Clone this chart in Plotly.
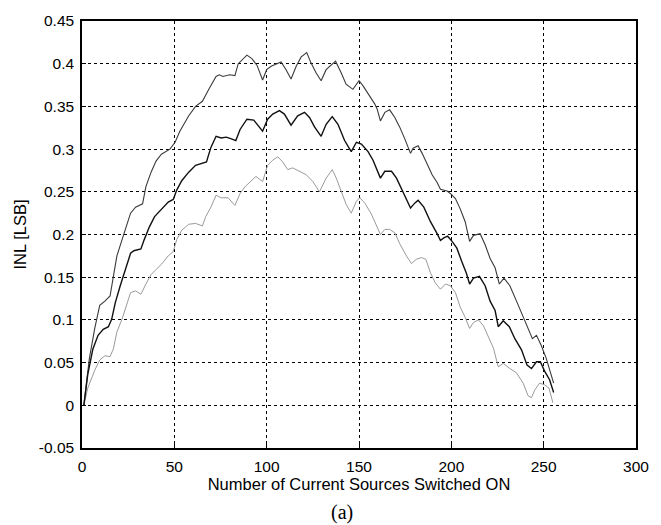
import plotly.graph_objects as go

# ---- data ----
x_top = [1,4,6.9,9.6,12.4,15.2,17,18.9,21.7,26.3,29,32.8,34.6,37.4,40.1,43,47.6,50.4,53,57.8,
         61.5,65.2,68.9,72.6,74.4,76.3,80,82.8,84.6,89.3,92,94.8,97.8,100,102.4,105,107.8,110.5,113.2,116,
         118.7,121.7,124,126.8,129.5,132.2,135,137.3,140.4,143,146.7,150,152.2,155.8,158.5,159.8,161.6,164,166.6,169.4,
         172,174.8,177.9,179.3,182,184.2,186.9,189.6,192.3,194.1,197.7,200,202.2,204.8,207.5,209.9,212,215.6,218.3,221,
         223.7,226,228.5,231.7,235.3,238.9,241.6,243.9,246.1,248.7,251.4,253.2,255.4]
y_top = [0,0.055,0.09,0.117,0.122,0.128,0.151,0.175,0.194,0.225,0.232,0.236,0.256,0.273,0.286,0.294,0.300,0.308,0.321,0.339,
         0.350,0.356,0.371,0.385,0.387,0.385,0.387,0.386,0.400,0.410,0.406,0.398,0.381,0.393,0.397,0.399,0.402,0.393,0.382,0.397,
         0.408,0.413,0.401,0.389,0.380,0.393,0.399,0.403,0.389,0.376,0.370,0.380,0.374,0.362,0.353,0.347,0.333,0.343,0.346,0.337,
         0.326,0.312,0.295,0.301,0.304,0.295,0.282,0.270,0.261,0.253,0.251,0.247,0.242,0.230,0.215,0.192,0.199,0.201,0.188,0.172,
         0.161,0.142,0.149,0.140,0.122,0.103,0.088,0.078,0.082,0.070,0.055,0.043,0.026]

x_mid = [1,3.1,5.9,8.7,11.5,14.3,16.1,18,20.7,23.5,26.3,28.1,31.9,33.7,36.5,39.3,43,46.7,49.4,51.3,
         54,57.8,61.5,65.2,67.4,69.8,72.6,75.4,78.1,80.9,83.3,85.6,89.3,93,97.8,100.5,103.3,106.9,109.6,113.2,
         116.8,120.5,123.2,125.9,129.5,132.2,135.5,138.6,142.2,145.8,148.6,151.3,154.9,157.6,159.4,161.6,164,167.6,170.3,173.9,
         177.9,180.3,182,185.1,188.7,192.3,194.1,195.9,198,200.4,203,205.7,208.1,209.9,212,215.2,218.3,221,223.7,225.4,
         228.1,231.4,234.4,238,241,243.4,246.1,248.2,250.5,253.2,255.4]
y_mid = [0,0.036,0.066,0.082,0.089,0.092,0.101,0.120,0.140,0.159,0.178,0.181,0.183,0.194,0.209,0.221,0.229,0.238,0.241,0.252,
         0.263,0.273,0.281,0.283,0.285,0.302,0.315,0.313,0.314,0.312,0.310,0.323,0.335,0.334,0.321,0.335,0.341,0.345,0.341,0.328,
         0.339,0.343,0.337,0.326,0.315,0.329,0.338,0.329,0.310,0.297,0.308,0.306,0.297,0.287,0.277,0.266,0.274,0.274,0.266,0.249,
         0.231,0.237,0.240,0.232,0.215,0.201,0.193,0.196,0.198,0.192,0.184,0.168,0.155,0.142,0.149,0.151,0.140,0.122,0.111,0.092,
         0.099,0.092,0.078,0.065,0.047,0.043,0.051,0.051,0.040,0.030,0.015]

x_low = [1,3.1,6.9,9.6,12.4,15.2,17,18.9,21.7,24.4,26.3,29,31.9,34.6,37.4,40.1,43,46.7,49.4,51.3,
         54,57.8,61.5,65.2,67,69.8,72.6,75.4,79.1,82.8,85.6,88.3,92,94.2,97.8,100.5,103.3,106,108.7,111.4,
         114.1,117.8,121.4,125,128.6,132.2,135.5,137.7,140.4,143.1,145.8,148.6,150.4,153.1,156.7,159.4,161.6,164,166.6,169.4,
         172.1,175.7,178.4,181.1,183.8,186.2,188.7,191.4,194.1,196.8,199.5,202.2,204.8,207.5,209.9,212,214.7,217.4,220.1,222.8,
         225.4,228.1,231.7,235.3,238.9,241.6,243.4,245.2,247.8,250.5,252.9,255]
y_low = [0,0.020,0.041,0.053,0.058,0.057,0.066,0.086,0.101,0.120,0.132,0.134,0.130,0.142,0.153,0.159,0.165,0.175,0.180,0.194,
         0.205,0.212,0.213,0.210,0.221,0.232,0.246,0.243,0.243,0.234,0.248,0.256,0.263,0.268,0.262,0.281,0.287,0.291,0.285,0.276,
         0.278,0.274,0.270,0.262,0.250,0.266,0.276,0.266,0.250,0.235,0.225,0.239,0.243,0.237,0.224,0.210,0.200,0.206,0.206,0.202,
         0.189,0.175,0.166,0.171,0.173,0.171,0.155,0.143,0.136,0.142,0.140,0.132,0.115,0.103,0.090,0.097,0.100,0.093,0.080,0.067,
         0.045,0.049,0.043,0.038,0.026,0.011,0.009,0.018,0.026,0.024,0.020,0.003]

x_ticks = [0, 50, 100, 150, 200, 250, 300]
y_ticks = [-0.05, 0, 0.05, 0.1, 0.15, 0.2, 0.25, 0.3, 0.35, 0.4, 0.45]
y_tick_text = ["-0.05", "0", "0.05", "0.1", "0.15", "0.2", "0.25", "0.3", "0.35", "0.4", "0.45"]

FONT = "Liberation Sans, Arial, sans-serif"

fig = go.Figure()
fig.add_trace(go.Scatter(x=x_low, y=y_low, mode="lines",
                         line=dict(color="#9a9a9a", width=1), showlegend=False))
fig.add_trace(go.Scatter(x=x_top, y=y_top, mode="lines",
                         line=dict(color="#3a3a3a", width=1.1), showlegend=False))
fig.add_trace(go.Scatter(x=x_mid, y=y_mid, mode="lines",
                         line=dict(color="#111111", width=1.4), showlegend=False))

axis_common = dict(
    showline=True, linecolor="black", linewidth=1.5, mirror=True,
    showgrid=True, gridcolor="black", gridwidth=1, griddash="3px,3px",
    zeroline=False, ticks="inside", ticklen=4, tickcolor="black",
    tickfont=dict(family=FONT, size=15.5, color="black"),
)

fig.update_xaxes(range=[0, 300], tickvals=x_ticks, ticklabelstandoff=4,
                 title=dict(text="Number of Current Sources Switched ON",
                            font=dict(family=FONT, size=16.5, color="black"), standoff=3),
                 **axis_common)
fig.update_yaxes(range=[-0.05, 0.45], tickvals=y_ticks, ticktext=y_tick_text,
                 ticklabelstandoff=3,
                 title=dict(text="INL [LSB]", font=dict(family=FONT, size=16.5, color="black"),
                            standoff=8),
                 **axis_common)

fig.add_annotation(text="(a)", xref="paper", yref="paper", x=0.47, y=-0.15,
                   xanchor="center", yanchor="middle", showarrow=False,
                   font=dict(family="Liberation Serif, Times New Roman, serif", size=20, color="black"))

fig.update_layout(
    width=661, height=525,
    margin=dict(l=82, r=25, t=15, b=77),
    paper_bgcolor="white", plot_bgcolor="white",
)

fig.write_html("out.html")
